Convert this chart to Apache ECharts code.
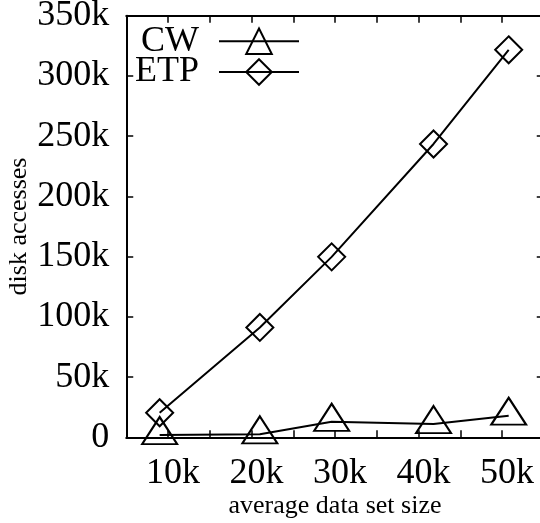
<!DOCTYPE html>
<html>
<head>
<meta charset="utf-8">
<script src="https://cdn.jsdelivr.net/npm/echarts@6/dist/echarts.min.js"></script>
<style>html,body{margin:0;padding:0;background:#fff;}#c{width:540px;height:523px;}</style>
</head>
<body>
<div id="c"></div>
<script>
// average data set size (thousands)
var sizes = [9.0, 21.0, 29.6, 41.8, 50.8];
// disk accesses (thousands)
var cwValues = [1.9, 2.5, 12.9, 11.0, 17.9];
var etpValues = [20.4, 91.2, 149.8, 243.5, 321.7];
var seriesNames = ['CW', 'ETP'];
var xTitle = 'average data set size';
var yTitle = 'disk accesses';

var FONT = 'Liberation Serif';
function pairs(xs, ys) { return xs.map(function (x, i) { return [x, ys[i]]; }); }

var chart = echarts.init(document.getElementById('c'), null, { renderer: 'canvas' });
var axisLine = { show: true, onZero: false, lineStyle: { color: '#000', width: 2 } };
var tick = { show: true, inside: true, length: 7, lineStyle: { color: '#000', width: 1.5 } };

var legendBase = {
  orient: 'horizontal', align: 'right', right: 240, padding: 0,
  itemWidth: 80, itemHeight: 32,
  textStyle: { fontFamily: FONT, fontSize: 36, color: '#000', padding: [0, 15, 0, 0], lineHeight: 32 }
};

chart.setOption({
  animation: false,
  backgroundColor: '#fff',
  grid: { left: 126.25, top: 15.7, width: 417.5, height: 421.6, containLabel: false, outerBoundsMode: 'none' },
  legend: [
    Object.assign({}, legendBase, { data: ['CW'], top: 23.3 }),
    Object.assign({}, legendBase, { data: ['ETP'], top: 54 })
  ],
  xAxis: [{
    type: 'value', min: 5, max: 55, interval: 5, position: 'bottom',
    name: xTitle, nameLocation: 'middle', nameGap: 56, nameMoveOverlap: false,
    nameTextStyle: { fontFamily: FONT, fontSize: 26, color: '#000' },
    axisLine: axisLine, axisTick: tick, splitLine: { show: false },
    axisLabel: { fontFamily: FONT, fontSize: 36, color: '#000', margin: 18, padding: [0, 0, 0, 10],
      formatter: function (v) { return (v % 10 === 0) ? v + 'k' : ''; } }
  }, {
    type: 'value', min: 5, max: 55, interval: 5, position: 'top',
    axisLine: axisLine, axisTick: tick, splitLine: { show: false },
    axisLabel: { show: false }
  }],
  yAxis: [{
    type: 'value', min: 0, max: 350, interval: 50, position: 'left',
    name: yTitle, nameLocation: 'middle', nameGap: 94, nameMoveOverlap: false,
    nameTextStyle: { fontFamily: FONT, fontSize: 26, color: '#000' },
    axisLine: axisLine, axisTick: tick, splitLine: { show: false },
    axisLabel: { fontFamily: FONT, fontSize: 36, color: '#000', margin: 17,
      formatter: function (v) { return v === 0 ? '0' : v + 'k'; } }
  }, {
    type: 'value', min: 0, max: 350, interval: 50, position: 'right',
    axisLine: axisLine, axisTick: tick, splitLine: { show: false },
    axisLabel: { show: false }
  }],
  series: [{
    name: seriesNames[0], type: 'line', data: pairs(sizes, cwValues),
    symbol: 'triangle', symbolSize: [35, 27], symbolOffset: [0, -4.5],
    lineStyle: { color: '#000', width: 2 },
    itemStyle: { color: 'rgba(0,0,0,0)', borderColor: '#000', borderWidth: 2 },
    emphasis: { disabled: true }
  }, {
    name: seriesNames[1], type: 'line', data: pairs(sizes, etpValues),
    symbol: 'diamond', symbolSize: [27, 27],
    lineStyle: { color: '#000', width: 2 },
    itemStyle: { color: 'rgba(0,0,0,0)', borderColor: '#000', borderWidth: 2 },
    emphasis: { disabled: true }
  }]
});
</script>
</body>
</html>
